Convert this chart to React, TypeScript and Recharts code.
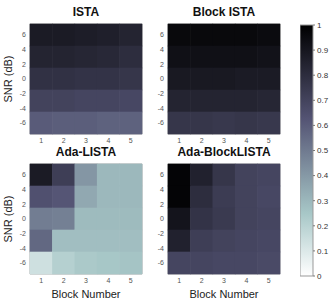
import React from "react";
import {
  ScatterChart,
  Scatter,
  BarChart,
  Bar,
  XAxis,
  YAxis,
  ReferenceArea
} from "recharts";

// heatmap axes
const blocks = [1, 2, 3, 4, 5];
const snrLevels = [6, 3, 0, -3, -6];
const xTicks = [1, 2, 3, 4, 5];
const yTicks = [-6, -4, -2, 0, 2, 4, 6];
const cbTicks = [0, 0.1, 0.2, 0.3, 0.4, 0.5, 0.6, 0.7, 0.8, 0.9, 1];

// rows follow snrLevels (6 dB first), columns follow blocks
const ista = [
  [0.88, 0.88, 0.87, 0.86, 0.84],
  [0.84, 0.84, 0.83, 0.82, 0.8],
  [0.78, 0.78, 0.77, 0.77, 0.76],
  [0.7, 0.7, 0.69, 0.69, 0.68],
  [0.6, 0.59, 0.59, 0.58, 0.58]
];
const blockIsta = [
  [0.96, 0.96, 0.96, 0.96, 0.95],
  [0.93, 0.93, 0.93, 0.93, 0.92],
  [0.89, 0.89, 0.89, 0.88, 0.88],
  [0.84, 0.84, 0.84, 0.84, 0.83],
  [0.76, 0.76, 0.75, 0.76, 0.75]
];
const adaLista = [
  [0.88, 0.72, 0.41, 0.3, 0.3],
  [0.64, 0.62, 0.35, 0.3, 0.3],
  [0.49, 0.48, 0.29, 0.29, 0.29],
  [0.56, 0.28, 0.28, 0.28, 0.28],
  [0.14, 0.21, 0.24, 0.25, 0.26]
];
const adaBlockLista = [
  [0.98, 0.85, 0.76, 0.7, 0.69],
  [0.98, 0.8, 0.73, 0.7, 0.68],
  [0.91, 0.77, 0.74, 0.7, 0.69],
  [0.85, 0.72, 0.7, 0.69, 0.68],
  [0.69, 0.69, 0.68, 0.68, 0.67]
];

const PLOT_W = 112;
const PLOT_H = 110;
const FONT = "'Liberation Sans', Arial, sans-serif";

const clamp = (v: number) => Math.max(0, Math.min(1, v));

// reversed matlab "bone": 1 -> black, 0 -> white
function boneR(v: number) {
  const x = 1 - clamp(v);
  const hr = Math.min(1, x / 0.375);
  const hg = clamp((x - 0.375) / 0.375);
  const hb = clamp((x - 0.75) / 0.25);
  const c = (h: number) => Math.round(((7 * x + h) / 8) * 255);
  return `rgb(${c(hb)},${c(hg)},${c(hr)})`;
}

function Panel({
  title,
  values,
  x0,
  y0,
  yLabel,
  xLabel
}: {
  title: string;
  values: number[][];
  x0: number;
  y0: number;
  yLabel?: boolean;
  xLabel?: boolean;
}) {
  const cells = snrLevels.flatMap((snr, i) =>
    blocks.map((b, j) => ({ block: b, snr, v: values[i][j] }))
  );
  const cw = PLOT_W / blocks.length;
  const ch = PLOT_H / snrLevels.length;
  const axisH = xLabel ? 32 : 12;
  return (
    <>
      <div
        style={{
          position: "absolute",
          left: x0,
          top: y0 - 19,
          width: PLOT_W,
          textAlign: "center",
          fontSize: 12,
          lineHeight: "14px",
          fontWeight: "bold",
          color: "#111"
        }}
      >
        {title}
      </div>
      <div style={{ position: "absolute", left: x0 - 30, top: y0 - 10 }}>
        <ScatterChart
          width={30 + PLOT_W + 4}
          height={10 + PLOT_H + axisH}
          margin={{ top: 10, right: 4, bottom: 0, left: 0 }}
        >
          <XAxis
            type="number"
            dataKey="block"
            domain={[0.5, 5.5]}
            ticks={xTicks}
            axisLine={false}
            tickLine={false}
            tickSize={3}
            tickMargin={1}
            height={axisH}
            tick={{ fontSize: 7, fill: "#555" }}
            label={
              xLabel
                ? { value: "Block Number", position: "insideBottom", offset: 8, fontSize: 11, fill: "#222" }
                : undefined
            }
          />
          <YAxis
            type="number"
            dataKey="snr"
            domain={[-7.5, 7.5]}
            ticks={yTicks}
            axisLine={false}
            tickLine={false}
            tickSize={3}
            tickMargin={1}
            width={30}
            tick={{ fontSize: 7, fill: "#555" }}
            label={
              yLabel
                ? {
                    value: "SNR (dB)",
                    angle: -90,
                    position: "insideLeft",
                    offset: 8,
                    fontSize: 11,
                    fill: "#222",
                    style: { textAnchor: "middle" }
                  }
                : undefined
            }
          />
          <Scatter
            data={cells}
            isAnimationActive={false}
            shape={(p: any) => (
              <rect
                x={p.cx - cw / 2 - 0.3}
                y={p.cy - ch / 2 - 0.3}
                width={cw + 0.6}
                height={ch + 0.6}
                fill={boneR(p.payload.v)}
              />
            )}
          />
          <ReferenceArea
            x1={0.5}
            x2={5.5}
            y1={-7.5}
            y2={7.5}
            fill="none"
            fillOpacity={0}
            stroke="#a8a8a8"
            strokeWidth={1}
          />
        </ScatterChart>
      </div>
    </>
  );
}

const cbData = [{ name: "scale", v: 1 }];

function ColorBar() {
  return (
    <div style={{ position: "absolute", left: 300, top: 15 }}>
      <BarChart
        width={36}
        height={271}
        data={cbData}
        barCategoryGap={0}
        margin={{ top: 10, right: 0, bottom: 10, left: 0 }}
      >
        <XAxis dataKey="name" hide />
        <YAxis
          orientation="right"
          type="number"
          domain={[0, 1]}
          ticks={cbTicks}
          axisLine={false}
          tickSize={2}
          tickMargin={2}
          width={23}
          stroke="#777"
          tick={{ fontSize: 8, fill: "#333" }}
          tickFormatter={(v: number) => String(v)}
        />
        <Bar dataKey="v" fill="url(#boneR)" stroke="#999" isAnimationActive={false} />
      </BarChart>
    </div>
  );
}

export default function App() {
  return (
    <div
      style={{
        position: "absolute",
        left: 0,
        top: 0,
        width: 333,
        height: 308,
        background: "#fff",
        fontFamily: FONT
      }}
    >
      <svg width={0} height={0} style={{ position: "absolute" }}>
        <defs>
          <linearGradient id="boneR" x1="0" y1="0" x2="0" y2="1">
            <stop offset="0" stopColor={boneR(1)} />
            <stop offset="0.375" stopColor={boneR(0.625)} />
            <stop offset="0.75" stopColor={boneR(0.25)} />
            <stop offset="1" stopColor={boneR(0)} />
          </linearGradient>
        </defs>
      </svg>
      <Panel title="ISTA" values={ista} x0={30} y0={24} yLabel />
      <Panel title="Block ISTA" values={blockIsta} x0={168} y0={24} />
      <Panel title="Ada-LISTA" values={adaLista} x0={30} y0={164} yLabel xLabel />
      <Panel title="Ada-BlockLISTA" values={adaBlockLista} x0={168} y0={164} xLabel />
      <ColorBar />
    </div>
  );
}
